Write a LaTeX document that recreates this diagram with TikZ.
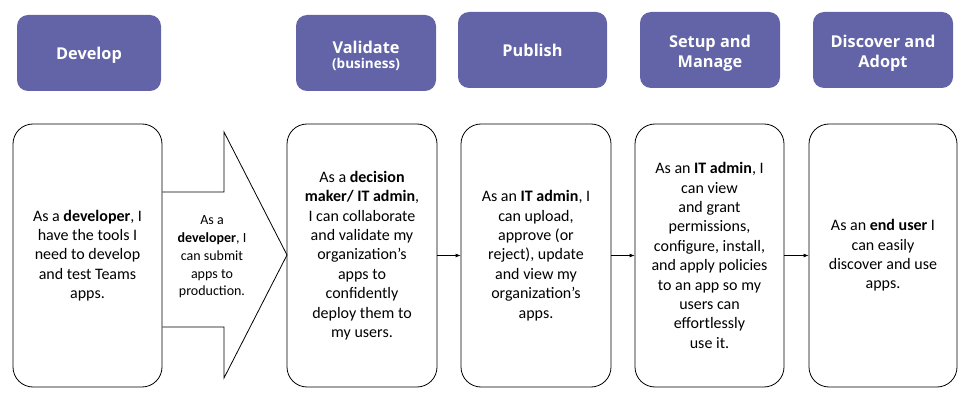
\documentclass[tikz,border=0pt]{standalone}
\usepackage{fontspec}
\setmainfont{Carlito}
\newfontfamily\headfont{Open Sans}
\usetikzlibrary{arrows.meta}
\definecolor{teamspurple}{HTML}{6264A7}
% lower a header label without changing the node size
\newcommand{\lowerby}[2]{\raisebox{-#1}[\height][\depth]{#2}}
% two evenly spaced centred lines
\newcommand{\twolines}[2]{\begin{tabular}{@{}c@{}}#1\\#2\end{tabular}}
\begin{document}
\begin{tikzpicture}[x=1pt,y=-1pt,
  stage/.style={fill=teamspurple, rounded corners=11pt, inner sep=0pt,
    text=white, align=center, font=\headfont\bfseries\fontsize{16.3}{20}\selectfont},
  card/.style={draw=black, line width=0.8pt, rounded corners=20pt, inner sep=0pt,
    align=center, font=\fontsize{16}{19.4}\selectfont},
  flow/.style={line width=0.8pt, -{Latex[length=5pt,width=4pt]}}
]
\useasboundingbox (0,0) rectangle (970,406);

% stage headers
\node[stage, minimum width=144pt, minimum height=76pt] (hdev) at (89,53) {\lowerby{2pt}{Develop}};
\node[stage, minimum width=140pt, minimum height=76pt] (hval) at (366,53)
  {\lowerby{3pt}{\shortstack{Validate\\[2pt]{\fontsize{13.5}{15}\selectfont(business)}}}};
\node[stage, minimum width=149pt, minimum height=76pt] (hpub) at (532.5,50) {Publish};
\node[stage, minimum width=140pt, minimum height=76pt] (hset) at (710,50)
  {\lowerby{4pt}{\twolines{Setup and}{Manage}}};
\node[stage, minimum width=140pt, minimum height=76pt] (hdis) at (883,50)
  {\lowerby{4pt}{\twolines{Discover and}{Adopt}}};

% cards
\node[card, minimum width=149pt, minimum height=263pt] (cdev) at (87.5,255.5)
  {As a \textbf{developer}, I\\have the tools I\\need to develop\\and test Teams\\apps.};

% hand-off arrow from Develop to Validate
\draw[line width=0.8pt] (cdev.east |- 0,192) -- (224,192) -- (224,132) -- (287,255)
  -- (224,378) -- (224,327) -- (cdev.east |- 0,327);
\node[align=center, font=\fontsize{14}{17.8}\selectfont] (handoff) at (212,257)
  {As a\\\textbf{developer}, I\\can submit\\apps to\\production.};

\node[card, minimum width=150pt, minimum height=263pt] (cval) at (362,255.5)
  {As a \textbf{decision}\\\textbf{maker/ IT admin},\\I can collaborate\\and validate my\\organization’s\\apps to\\confidently\\deploy them to\\my users.};
\node[card, minimum width=150pt, minimum height=263pt] (cpub) at (536,255.5)
  {As an \textbf{IT admin}, I\\can upload,\\approve (or\\reject), update\\and view my\\organization’s\\apps.};
\node[card, minimum width=149pt, minimum height=263pt] (cset) at (709.5,255.5)
  {As an \textbf{IT admin}, I\\can view\\and grant\\permissions,\\configure, install,\\and apply policies\\to an app so my\\users can\\effortlessly\\use it.};
\node[card, minimum width=148pt, minimum height=263pt] (cdis) at (883,255.5)
  {As an \textbf{end user} I\\can easily\\discover and use\\apps.};

% connectors
\draw[flow] (cval.east) -- (cpub.west);
\draw[flow] (cpub.east) -- (cset.west);
\draw[flow] (cset.east) -- (cdis.west);
\end{tikzpicture}
\end{document}
